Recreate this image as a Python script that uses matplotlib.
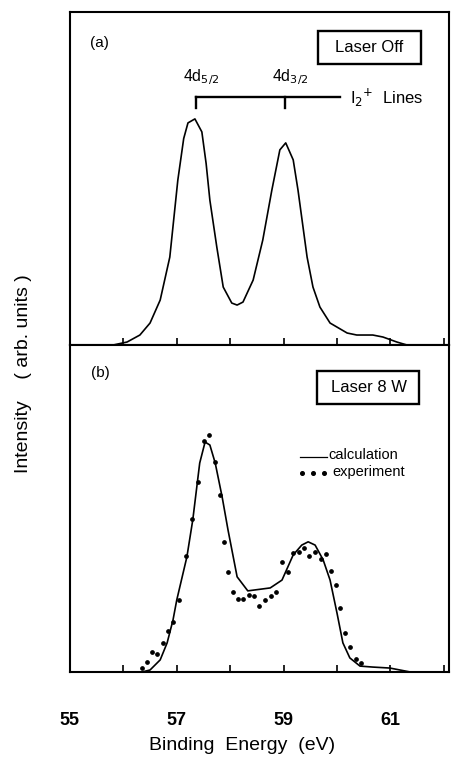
import numpy as np
import matplotlib.pyplot as plt
from matplotlib.patches import Rectangle

plt.rcParams['font.family'] = ['Liberation Sans', 'DejaVu Sans']

# (a) laser off spectrum
e_off = [55.81, 56.07, 56.31, 56.50, 56.69, 56.87, 57.02, 57.13, 57.21, 57.34,
         57.47, 57.55, 57.62, 57.75, 57.87, 58.03, 58.13, 58.24, 58.43, 58.61,
         58.78, 58.93, 59.04, 59.18, 59.27, 59.44, 59.55, 59.68, 59.87, 60.19,
         60.37, 60.67, 60.86, 61.12, 61.31]
i_off = [0.0, 0.009, 0.030, 0.066, 0.135, 0.264, 0.495, 0.620, 0.667, 0.679,
         0.640, 0.545, 0.435, 0.294, 0.174, 0.126, 0.120, 0.129, 0.195, 0.315,
         0.465, 0.586, 0.607, 0.556, 0.465, 0.264, 0.174, 0.114, 0.066, 0.036,
         0.030, 0.030, 0.024, 0.009, 0.0]

# I2+ line positions
line_pos = [57.36, 59.03]
line_lab = [r'4d$_{5/2}$', r'4d$_{3/2}$']

# (b) laser 8 W: calculation
e_calc = [56.35, 56.50, 56.69, 56.82, 56.93, 57.00, 57.19, 57.30, 57.43, 57.53,
          57.62, 57.72, 57.85, 57.96, 58.13, 58.33, 58.75, 58.97, 59.18, 59.34,
          59.46, 59.59, 59.74, 59.87, 60.00, 60.11, 60.24, 60.43, 60.67, 60.99,
          61.18, 61.37]
i_calc = [0.0, 0.006, 0.037, 0.089, 0.159, 0.220, 0.352, 0.465, 0.639, 0.703,
          0.694, 0.639, 0.535, 0.434, 0.291, 0.248, 0.257, 0.281, 0.358, 0.388,
          0.398, 0.388, 0.343, 0.281, 0.180, 0.089, 0.043, 0.018, 0.015, 0.012,
          0.006, 0.0]

# (b) experiment
e_exp = [56.35, 56.44, 56.54, 56.63, 56.74, 56.84, 56.93, 57.04, 57.17, 57.28,
         57.40, 57.51, 57.60, 57.72, 57.81, 57.88, 57.96, 58.05, 58.15, 58.24,
         58.35, 58.45, 58.54, 58.65, 58.76, 58.86, 58.97, 59.08, 59.18, 59.29,
         59.38, 59.48, 59.59, 59.70, 59.79, 59.89, 59.98, 60.06, 60.15, 60.24,
         60.36, 60.45]
i_exp = [0.012, 0.031, 0.061, 0.055, 0.089, 0.125, 0.153, 0.220, 0.355, 0.468,
         0.581, 0.706, 0.725, 0.642, 0.541, 0.398, 0.306, 0.245, 0.223, 0.223,
         0.235, 0.232, 0.202, 0.220, 0.232, 0.245, 0.336, 0.306, 0.364, 0.367,
         0.379, 0.355, 0.367, 0.346, 0.361, 0.309, 0.266, 0.196, 0.119, 0.076,
         0.040, 0.028]

xticks = [55, 56, 57, 58, 59, 60, 61, 62]
xticklabels = ['55', '', '57', '', '59', '', '61', '']

fig = plt.figure(figsize=(4.51, 7.65), dpi=100)
ax1 = fig.add_axes([0.155, 0.549, 0.841, 0.4353])
ax2 = fig.add_axes([0.155, 0.1216, 0.841, 0.4275])

for ax in (ax1, ax2):
    ax.set_xlim(55, 62.1)
    ax.set_ylim(0, 1)
    ax.set_yticks([])
    ax.set_xticks(xticks)
    ax.tick_params(axis='x', direction='in', length=5, width=1.2)
    for s in ax.spines.values():
        s.set_linewidth(1.5)

ax1.set_xticklabels([])
ax2.set_xticklabels(xticklabels, fontsize=13, fontweight='bold')
ax2.tick_params(axis='x', pad=29)

# upper panel
ax1.plot(e_off, i_off, color='black', lw=1.2)
ax1.plot([line_pos[0], 60.06], [0.745, 0.745], color='black', lw=1.7)
for p, lab in zip(line_pos, line_lab):
    ax1.plot([p, p], [0.745, 0.713], color='black', lw=1.7)
    ax1.text(p + 0.1, 0.775, lab, fontsize=11.5, ha='center', va='bottom')
ax1.text(60.24, 0.742, r'I$_2$$^{+}$  Lines', fontsize=12, ha='left', va='center')
ax1.text(0.052, 0.907, '(a)', transform=ax1.transAxes, fontsize=11, va='center')
ax1.add_patch(Rectangle((0.654, 0.844), 0.272, 0.099, transform=ax1.transAxes,
                        fill=False, lw=1.7))
ax1.text(0.790, 0.893, 'Laser Off', transform=ax1.transAxes, fontsize=12,
         ha='center', va='center')

# lower panel
ax2.plot(e_calc, i_calc, color='black', lw=1.2)
ax2.plot(e_exp, i_exp, ls='none', marker='o', ms=2.4, color='black')
ax2.text(0.055, 0.914, '(b)', transform=ax2.transAxes, fontsize=11, va='center')
ax2.add_patch(Rectangle((0.652, 0.820), 0.269, 0.101, transform=ax2.transAxes,
                        fill=False, lw=1.7))
ax2.text(0.788, 0.870, 'Laser 8 W', transform=ax2.transAxes, fontsize=12,
         ha='center', va='center')

# key
ax2.plot([0.607, 0.677], [0.657, 0.657], transform=ax2.transAxes, color='black', lw=0.9)
ax2.text(0.682, 0.663, 'calculation', transform=ax2.transAxes, fontsize=10.5, va='center')
ax2.plot([0.612, 0.641, 0.671], [0.609, 0.609, 0.609], transform=ax2.transAxes,
         ls='none', marker='o', ms=2.6, color='black')
ax2.text(0.692, 0.611, 'experiment', transform=ax2.transAxes, fontsize=10.5, va='center')

fig.text(0.051, 0.511, 'Intensity    ( arb. units )', rotation=90, fontsize=14,
         ha='center', va='center')
fig.text(0.537, 0.026, 'Binding  Energy  (eV)', fontsize=14, ha='center', va='center')

fig.savefig('out.png', dpi=100)
